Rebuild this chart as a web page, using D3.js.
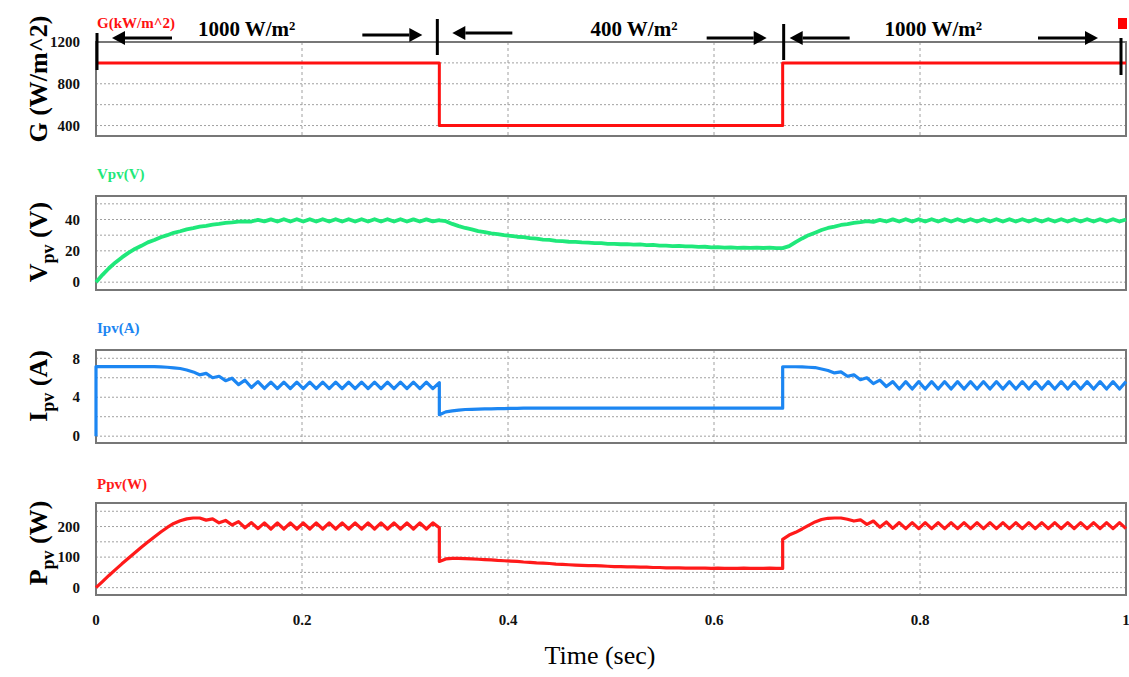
<!DOCTYPE html>
<html>
<head>
<meta charset="utf-8">
<script src="https://cdn.jsdelivr.net/npm/d3@7"></script>
<style>
  body { margin: 0; background: #fff; }
  svg { display: block; }
</style>
</head>
<body>
<div id="chart"></div>
<script>
// ---- data ----
const timeTicks = [0, 0.2, 0.4, 0.6, 0.8, 1];
const timeTickLabels = ['0', '0.2', '0.4', '0.6', '0.8', '1'];
const switchTimes = [0, 1 / 3, 2 / 3, 1];
const irradianceLabels = ['1000 W/m²', '400 W/m²', '1000 W/m²'];

// irradiance step profile (W/m^2)
const gTimes = [0, 1 / 3, 2 / 3, 1];
const gValues = [1000, 400, 1000, 1000];

// each segment is sampled evenly between two switch times
const vpvSeg1 = [0, 4.7, 8.9, 12.6, 15.8, 18.7, 21.2, 23.2, 25.4, 26.9,
  28.7, 30.0, 31.5, 32.5, 33.7, 34.5, 35.4, 36.0, 36.7, 37.2,
  37.8, 38.1, 38.6, 38.8, 38.7, 39.8, 38.8, 40.1, 38.7, 40.2,
  38.7, 40.2, 38.7, 40.2, 38.7, 40.2, 38.7, 40.2, 38.7, 40.2,
  38.7, 40.2, 38.7, 40.2, 38.7, 40.2, 38.7, 40.2, 38.7, 40.1,
  38.7, 40.1, 38.8, 39.6];
const vpvSeg2 = [39.4, 38.9, 37.2, 35.8, 34.6, 33.7, 32.6, 32.0, 31.2, 30.7,
  30.0, 29.6, 29.0, 28.7, 28.1, 27.8, 27.2, 27.0, 26.4, 26.2,
  25.8, 25.7, 25.4, 25.3, 24.9, 24.9, 24.5, 24.5, 24.2, 24.3,
  24.0, 24.1, 23.7, 23.8, 23.3, 23.3, 23.0, 23.1, 22.8, 22.9,
  22.5, 22.6, 22.2, 22.4, 22.0, 22.2, 21.9, 22.1, 21.9, 22.1,
  21.8, 22.0, 21.7, 21.7];
const vpvSeg3 = [21.7, 23.0, 25.6, 27.9, 30.0, 31.6, 33.3, 34.6, 35.5, 36.5,
  37.1, 37.9, 38.3, 39.0, 38.5, 39.8, 38.7, 40.1, 38.7, 40.2,
  38.7, 40.2, 38.7, 40.2, 38.7, 40.2, 38.7, 40.2, 38.7, 40.2,
  38.7, 40.2, 38.7, 40.2, 38.7, 40.2, 38.7, 40.2, 38.7, 40.2,
  38.7, 40.2, 38.7, 40.2, 38.7, 40.2, 38.7, 40.2, 38.7, 40.2,
  38.7, 40.2, 38.7, 40.0];

const ipvInitial = 0;
const ipvSeg1 = [7.15, 7.15, 7.15, 7.15, 7.15, 7.15, 7.15, 7.15, 7.15, 7.14,
  7.12, 7.08, 7.02, 6.95, 6.8, 6.6, 6.3, 6.45, 6.0, 6.15,
  5.7, 5.95, 5.3, 5.75, 5.0, 5.6, 4.9, 5.55, 4.88, 5.55,
  4.88, 5.55, 4.88, 5.55, 4.88, 5.55, 4.88, 5.55, 4.88, 5.55,
  4.88, 5.55, 4.88, 5.55, 4.88, 5.55, 4.88, 5.55, 4.88, 5.55,
  4.88, 5.55, 4.88, 5.5];
const ipvSeg2 = [2.2, 2.5, 2.6, 2.68, 2.74, 2.76, 2.78, 2.8, 2.8, 2.82,
  2.84, 2.86, 2.86, 2.88, 2.88, 2.88, 2.88, 2.88, 2.88, 2.88,
  2.88, 2.88, 2.88, 2.88, 2.88, 2.88, 2.88, 2.88, 2.88, 2.88,
  2.88, 2.88, 2.88, 2.88, 2.88, 2.88, 2.88, 2.88, 2.88, 2.88,
  2.88, 2.88, 2.88, 2.88, 2.88, 2.88, 2.88, 2.88, 2.88, 2.88,
  2.88, 2.88, 2.88, 2.88];
const ipvSeg3 = [7.13, 7.13, 7.13, 7.12, 7.08, 7.05, 6.9, 6.75, 6.5, 6.6,
  6.15, 6.3, 5.8, 6.0, 5.4, 5.75, 5.1, 5.6, 4.85, 5.6,
  4.85, 5.6, 4.85, 5.6, 4.85, 5.6, 4.85, 5.6, 4.85, 5.6,
  4.85, 5.6, 4.85, 5.6, 4.85, 5.6, 4.85, 5.6, 4.85, 5.6,
  4.85, 5.6, 4.85, 5.6, 4.85, 5.6, 4.85, 5.6, 4.85, 5.6,
  4.85, 5.6, 4.85, 5.6];

const ppvSeg1 = [0, 20, 40, 59, 78, 96, 114, 132, 149, 166,
  182, 197, 210, 219, 225, 228, 228, 221, 225, 212,
  220, 205, 216, 196, 213, 193, 212, 192, 212, 192,
  212, 192, 212, 192, 212, 192, 212, 192, 212, 192,
  212, 192, 212, 192, 212, 192, 212, 192, 212, 192,
  212, 192, 212, 196];
const ppvSeg2 = [86, 94, 96, 96, 95, 94, 93, 92, 91, 89,
  88, 87, 86, 84, 83, 81, 80, 79, 77, 76,
  75, 74, 73, 72, 72, 71, 70, 69, 69, 68,
  68, 67, 67, 66, 66, 65, 65, 65, 64, 64,
  64, 64, 63, 64, 63, 63, 63, 64, 63, 63,
  63, 64, 63, 63];
const ppvSeg3 = [158, 172, 181, 192, 204, 215, 223, 227, 228, 228,
  224, 218, 222, 207, 218, 198, 215, 194, 213, 193,
  213, 193, 213, 193, 213, 193, 213, 193, 213, 193,
  213, 193, 213, 193, 213, 193, 213, 193, 213, 193,
  213, 193, 213, 193, 213, 193, 213, 193, 213, 193,
  213, 193, 213, 193];

// axis ticks (labelled) and grid lines per panel
const gTicks = [400, 800, 1200];
const gGrid = [400, 600, 800, 1000, 1200];
const vpvTicks = [0, 20, 40];
const vpvGrid = [0, 10, 20, 30, 40, 50];
const ipvTicks = [0, 4, 8];
const ipvGrid = [0, 2, 4, 6, 8];
const ppvTicks = [0, 100, 200];
const ppvGrid = [0, 50, 100, 150, 200, 250];

// ---- layout ----
const width = 1129;
const height = 677;
const serif = '"Liberation Serif", "Times New Roman", serif';

const svg = d3.select('#chart').append('svg')
  .attr('width', width)
  .attr('height', height);

const x = d3.scaleLinear().domain([0, 1]).range([96, 1126]);

// turn evenly sampled segments into [t, v] points
function buildSeries(segments, initial) {
  var pts = [];
  if (initial !== undefined) pts.push([0, initial]);
  segments.forEach(function (vals, k) {
    var t0 = switchTimes[k], t1 = switchTimes[k + 1];
    vals.forEach(function (v, i) {
      pts.push([t0 + (t1 - t0) * i / (vals.length - 1), v]);
    });
  });
  return pts;
}

const panels = [
  { top: 42, bottom: 136, domain: [300, 1200], ticks: gTicks, grid: gGrid,
    color: '#ff1010', width: 3, label: 'G(kW/m^2)', labelY: 28,
    title: ['G (W/m^2)'], titleY: 79,
    points: gTimes.map(function (t, i) { return [t, gValues[i]]; }), step: true },
  { top: 196, bottom: 290, domain: [-5, 55], ticks: vpvTicks, grid: vpvGrid,
    color: '#1fe87a', width: 3.8, label: 'Vpv(V)', labelY: 179,
    title: ['V', 'pv', ' (V)'], titleY: 242,
    points: buildSeries([vpvSeg1, vpvSeg2, vpvSeg3]) },
  { top: 350, bottom: 443, domain: [-0.7, 8.85], ticks: ipvTicks, grid: ipvGrid,
    color: '#1c86f2', width: 3.2, label: 'Ipv(A)', labelY: 333,
    title: ['I', 'pv', ' (A)'], titleY: 386,
    points: buildSeries([ipvSeg1, ipvSeg2, ipvSeg3], ipvInitial) },
  { top: 503, bottom: 595, domain: [-24, 277], ticks: ppvTicks, grid: ppvGrid,
    color: '#ff1a1a', width: 3.2, label: 'Ppv(W)', labelY: 489,
    title: ['P', 'pv', ' (W)'], titleY: 543,
    points: buildSeries([ppvSeg1, ppvSeg2, ppvSeg3]) }
];

panels.forEach(function (p) {
  var y = d3.scaleLinear().domain(p.domain).range([p.bottom, p.top]);
  var g = svg.append('g');

  // horizontal dotted grid
  g.selectAll('.hgrid')
    .data(p.grid)
    .enter()
    .append('line')
    .attr('x1', x(0)).attr('x2', x(1))
    .attr('y1', function (d) { return y(d); })
    .attr('y2', function (d) { return y(d); })
    .attr('stroke', '#a0a0a0')
    .attr('stroke-width', 1)
    .attr('stroke-dasharray', '2,2');

  // vertical dashed grid
  g.selectAll('.vgrid')
    .data(timeTicks.slice(1, -1))
    .enter()
    .append('line')
    .attr('x1', function (d) { return x(d); })
    .attr('x2', function (d) { return x(d); })
    .attr('y1', p.top).attr('y2', p.bottom)
    .attr('stroke', '#a0a0a0')
    .attr('stroke-width', 1)
    .attr('stroke-dasharray', '3,3');

  // frame
  g.append('rect')
    .attr('x', x(0)).attr('y', p.top)
    .attr('width', x(1) - x(0)).attr('height', p.bottom - p.top)
    .attr('fill', 'none')
    .attr('stroke', '#777')
    .attr('stroke-width', 2);

  // y tick labels
  g.selectAll('.ytick')
    .data(p.ticks)
    .enter()
    .append('text')
    .attr('x', 80)
    .attr('y', function (d) { return y(d); })
    .attr('dy', '0.35em')
    .attr('text-anchor', 'end')
    .style('font-family', serif)
    .style('font-size', '15px')
    .style('font-weight', 700)
    .style('fill', '#111')
    .text(function (d) { return d; });

  // series line
  var line = d3.line()
    .x(function (d) { return x(d[0]); })
    .y(function (d) { return y(d[1]); })
    .curve(p.step ? d3.curveStepAfter : d3.curveLinear);

  g.append('path')
    .datum(p.points)
    .attr('d', line)
    .attr('fill', 'none')
    .attr('stroke', p.color)
    .attr('stroke-width', p.width)
    .attr('stroke-linejoin', 'round');

  // series label above panel
  g.append('text')
    .attr('x', 97)
    .attr('y', p.labelY)
    .style('font-family', serif)
    .style('font-size', '15px')
    .style('font-weight', 700)
    .style('fill', p.color)
    .text(p.label);

  // rotated y title with subscript
  var title = g.append('text')
    .attr('transform', 'translate(47,' + p.titleY + ') rotate(-90)')
    .attr('text-anchor', 'middle')
    .style('font-family', serif)
    .style('font-size', '26px')
    .style('font-weight', 700)
    .style('fill', '#000');
  if (p.title.length === 1) {
    title.text(p.title[0]);
  } else {
    title.append('tspan').text(p.title[0]);
    title.append('tspan').attr('dy', 7).style('font-size', '18px').text(p.title[1]);
    title.append('tspan').attr('dy', -7).text(p.title[2]);
  }
});

// ---- irradiance annotations in top panel ----
const barSpan = [[33, 70], [19, 55], [24, 60], [38, 75]];
const barDx = [1, -2, 1, -5];
const leftInset = [16, 13, 7];
const rightInset = [17, 16, 28];
const leftArrowY = [38, 33, 38];
const rightArrowY = [35, 38, 38];
const textDx = [-21, 23, -21];
const arrowLen = 60;

const ann = svg.append('g');

ann.selectAll('.bar')
  .data(switchTimes)
  .enter()
  .append('line')
  .attr('x1', function (d, i) { return x(d) + barDx[i]; })
  .attr('x2', function (d, i) { return x(d) + barDx[i]; })
  .attr('y1', function (d, i) { return barSpan[i][0]; })
  .attr('y2', function (d, i) { return barSpan[i][1]; })
  .attr('stroke', '#000')
  .attr('stroke-width', 3);

function arrow(tipX, y, dir) {
  var tail = tipX - dir * arrowLen;
  var head = 13;
  ann.append('line')
    .attr('x1', tail).attr('x2', tipX - dir * head)
    .attr('y1', y).attr('y2', y)
    .attr('stroke', '#000')
    .attr('stroke-width', 3);
  ann.append('path')
    .attr('d', 'M' + tipX + ',' + y + 'L' + (tipX - dir * head) + ',' + (y - 7) +
      'L' + (tipX - dir * head) + ',' + (y + 7) + 'Z')
    .attr('fill', '#000');
}

irradianceLabels.forEach(function (lab, k) {
  var a = x(switchTimes[k]), b = x(switchTimes[k + 1]);
  arrow(a + leftInset[k], leftArrowY[k], -1);
  arrow(b - rightInset[k], rightArrowY[k], 1);
  ann.append('text')
    .attr('x', (a + b) / 2 + textDx[k])
    .attr('y', 36)
    .attr('text-anchor', 'middle')
    .style('font-family', serif)
    .style('font-size', '21px')
    .style('font-weight', 700)
    .style('fill', '#000')
    .text(lab);
});

// small red marker at top right
ann.append('rect')
  .attr('x', x(1) - 8).attr('y', 18)
  .attr('width', 9).attr('height', 11)
  .attr('fill', '#ff0000');

// ---- time axis ----
svg.selectAll('.xtick')
  .data(timeTicks)
  .enter()
  .append('text')
  .attr('x', function (d) { return x(d); })
  .attr('y', 625)
  .attr('text-anchor', 'middle')
  .style('font-family', serif)
  .style('font-size', '15px')
  .style('font-weight', 700)
  .style('fill', '#111')
  .text(function (d, i) { return timeTickLabels[i]; });

svg.append('text')
  .attr('x', 600)
  .attr('y', 664)
  .attr('text-anchor', 'middle')
  .style('font-family', serif)
  .style('font-size', '26px')
  .style('fill', '#000')
  .text('Time (sec)');
</script>
</body>
</html>
